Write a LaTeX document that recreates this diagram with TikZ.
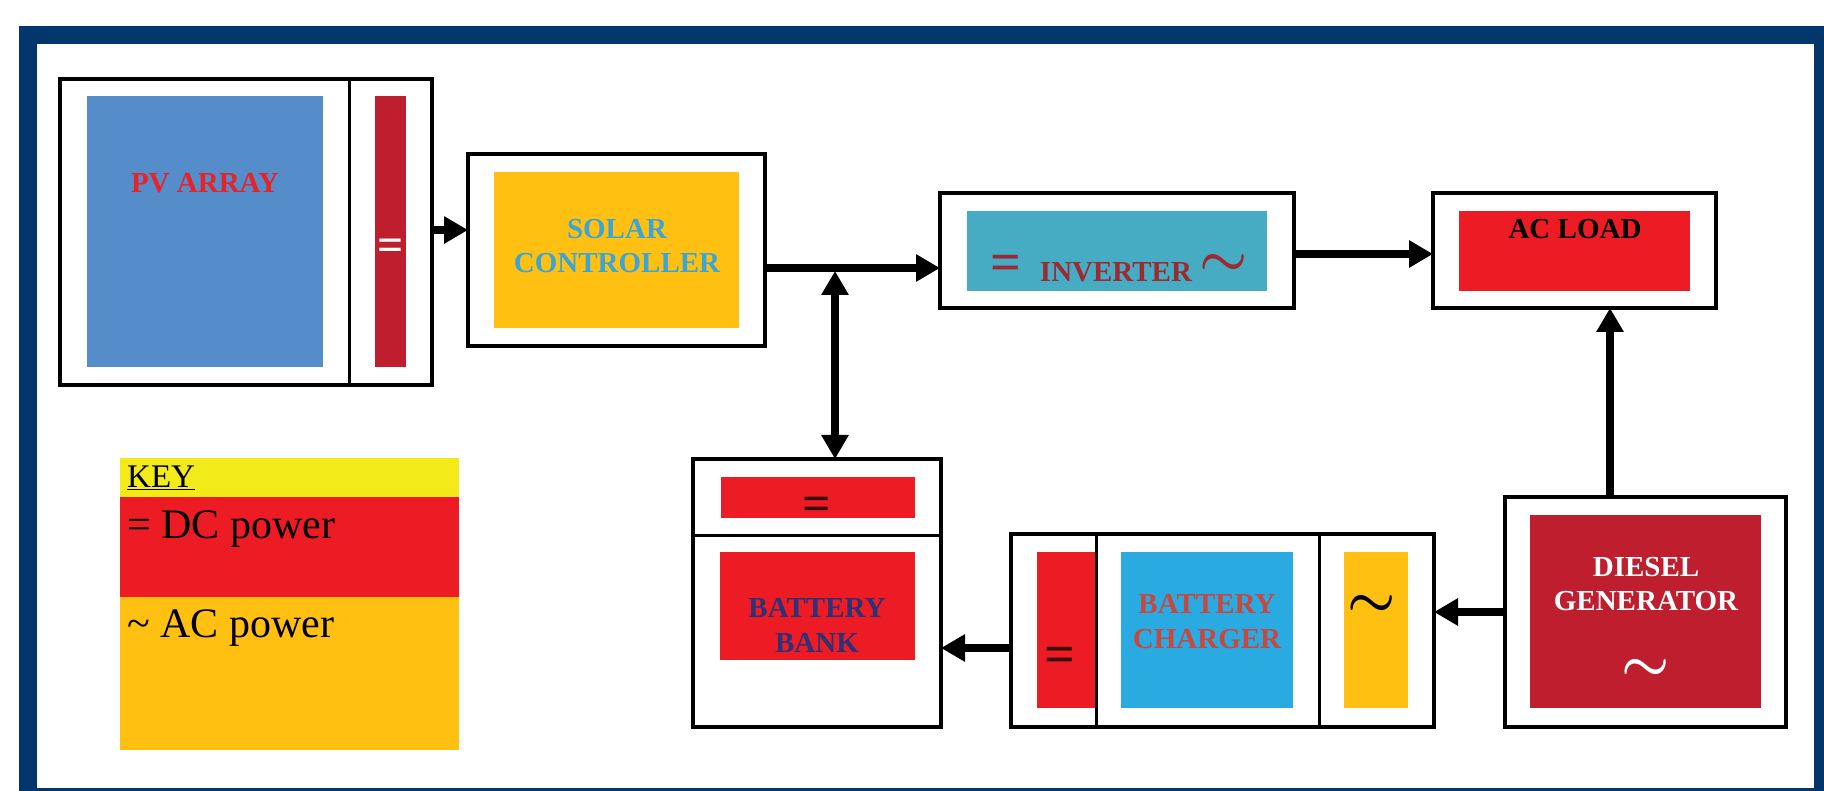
\documentclass[tikz,border=0pt]{standalone}
\usepackage{fix-cm}
\usepackage{fontspec}
\setmainfont{Liberation Serif}
\usetikzlibrary{arrows.meta}
\definecolor{frameblue}{HTML}{03376B}
\definecolor{pvblue}{HTML}{558CCA}
\definecolor{darkred}{HTML}{BE1E2D}
\definecolor{brightred}{HTML}{ED1C24}
\definecolor{amber}{HTML}{FFC012}
\definecolor{teal}{HTML}{46ACC4}
\definecolor{skyblue}{HTML}{29ABE2}
\definecolor{keyyellow}{HTML}{F2EA19}
\definecolor{pvtext}{HTML}{E52329}
\definecolor{solartext}{HTML}{3BA6D6}
\definecolor{invtext}{HTML}{9B2B30}
\definecolor{banktext}{HTML}{2D3175}
\definecolor{chgtext}{HTML}{C8473F}
\definecolor{symdark}{HTML}{3A0D0D}
\begin{document}
\begin{tikzpicture}[x=1pt,y=-1pt,
  box/.style={draw=black, line width=3.5pt, inner sep=0pt, outer sep=0pt},
  arr/.style={line width=8pt, -{Triangle[length=24pt,width=26pt]}},
  darr/.style={line width=8pt, {Triangle[length=24pt,width=26pt]}-{Triangle[length=24pt,width=26pt]}},
  lbl/.style={font=\fontsize{29}{34.5}\selectfont\bfseries, align=center, inner sep=0pt},
  eqsym/.style={font=\fontsize{54}{54}\selectfont\bfseries, inner sep=0pt},
  tisym/.style={font=\fontsize{54}{54}\selectfont\boldmath, inner sep=0pt},
  keytxt/.style={anchor=base west, inner sep=0pt, font=\fontsize{42}{42}\selectfont},
]
\useasboundingbox (0,0) rectangle (1824,791);
% frame
\fill[frameblue] (19,26) rectangle (1824,791);
\fill[white] (37,44) rectangle (1814,788);

% PV array
\node[box, minimum width=372pt, minimum height=306pt] (pv) at (246,232) {};
\draw[line width=3pt] (349,79) -- (349,385);
\fill[pvblue] (87,96) rectangle (323,367);
\fill[darkred] (375,96) rectangle (406,367);
\node[lbl, text=pvtext] (pvl) at (205,183) {PV ARRAY};
\node[eqsym, text=white, font=\fontsize{46}{46}\selectfont\bfseries] (pveq) at (391,250) {=};

% Solar controller
\node[box, minimum width=297pt, minimum height=192pt] (solar) at (616.5,250) {};
\fill[amber] (494,172) rectangle (739,328);
\node[lbl, text=solartext] (solarl) at (617,246) {SOLAR\\CONTROLLER};

% Inverter
\node[box, minimum width=354pt, minimum height=115pt] (inv) at (1117,250.5) {};
\fill[teal] (967,211) rectangle (1267,291);
\node[lbl, text=invtext] (invl) at (1116,272) {INVERTER};
\node[eqsym, text=invtext] (inveq) at (1006,268) {=};
\node[tisym, text=invtext] (invti) at (1224,265) {$\sim$};

% AC load
\node[box, minimum width=283pt, minimum height=115pt] (ac) at (1574.5,250.5) {};
\fill[brightred] (1459,211) rectangle (1690,291);
\node[lbl, text=black] (acl) at (1575,229) {AC LOAD};

% Battery bank
\node[box, minimum width=248pt, minimum height=268pt] (bank) at (817,593) {};
\draw[line width=3pt] (693,535) -- (941,535);
\fill[brightred] (721,477) rectangle (915,518);
\fill[brightred] (720,552) rectangle (915,660);
\node[eqsym, text=symdark, font=\fontsize{50}{50}\selectfont\bfseries] (bankeq) at (817,509) {=};
\node[lbl, text=banktext] (bankl) at (817,625.5) {BATTERY\\BANK};

% Battery charger
\node[box, minimum width=423pt, minimum height=193pt] (chg) at (1222.5,630.5) {};
\draw[line width=3pt] (1096,534) -- (1096,727);
\draw[line width=3pt] (1319,534) -- (1319,727);
\fill[brightred] (1037,552) rectangle (1094.5,708);
\fill[skyblue] (1121,552) rectangle (1293,708);
\fill[amber] (1344,552) rectangle (1408,708);
\node[lbl, text=chgtext] (chgl) at (1207,621.5) {BATTERY\\CHARGER};
\node[eqsym, text=symdark] (chgeq) at (1060,660) {=};
\node[tisym, text=black] (chgti) at (1371.5,606) {$\sim$};

% Diesel generator
\node[box, minimum width=281pt, minimum height=230pt] (dg) at (1645.5,612) {};
\fill[darkred] (1530,515) rectangle (1761,708);
\node[lbl, text=white] (dgl) at (1646,584) {DIESEL\\GENERATOR};
\node[tisym, text=white] (dgti) at (1646,670) {$\sim$};

% Key
\fill[keyyellow] (120,458) rectangle (459,497);
\fill[brightred] (120,497) rectangle (459,597);
\fill[amber] (120,597) rectangle (459,750);
\node[keytxt, font=\fontsize{33}{33}\selectfont] (keyh) at (127,488) {\underline{KEY}};
\node[keytxt] (keydc) at (127,538) {= DC power};
\node[keytxt] (keyac) at (127,637) {\textasciitilde{} AC power};

% connectors
\coordinate (jn) at (835,271);
\coordinate (dgx) at (1610,0);
\draw[arr] ([yshift=2pt]pv.east) -- ([yshift=2pt]pv.east -| solar.west);
\draw[line width=8pt] ([yshift=-18pt]solar.east) -- (jn |- 0,268);
\draw[arr] (jn |- 0,268) -- ([yshift=-18pt]solar.east -| inv.west);
\draw[darr] (jn) -- (jn |- bank.north);
\draw[arr] ([yshift=-3.5pt]inv.east) -- ([yshift=-3.5pt]inv.east -| ac.west);
\draw[arr] (dg.north -| dgx) -- (ac.south -| dgx);
\draw[arr] (dg.west) -- (dg.west -| chg.east);
\draw[arr] ([yshift=-17.5pt]chg.west) -- ([yshift=-17.5pt]chg.west -| bank.east);
\end{tikzpicture}
\end{document}
